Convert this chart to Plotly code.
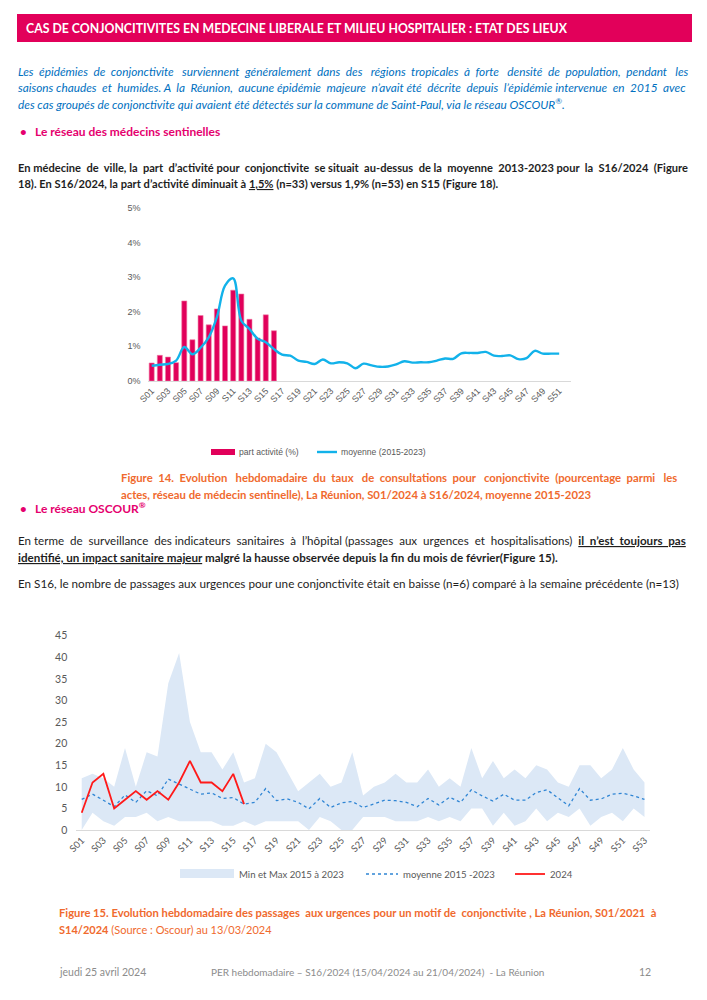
import plotly.graph_objects as go

W, H = 707, 1000

# ---------------- Data : Figure 14 (médecins sentinelles) ----------------
weeks52 = ["S%02d" % i for i in range(1, 53)]
part_activite_2024 = [0.52, 0.74, 0.69, 0.53, 2.31, 1.19, 1.89, 1.62, 2.08, 1.59,
                      2.62, 2.51, 1.78, 1.24, 1.91, 1.45]
moyenne_2015_2023 = [0.44, 0.47, 0.49, 0.59, 0.98, 0.77, 0.96, 1.26, 1.84, 2.75,
                     2.96, 1.74, 1.50, 1.22, 1.12, 0.92, 0.76, 0.73, 0.59, 0.55,
                     0.49, 0.62, 0.51, 0.54, 0.51, 0.37, 0.50, 0.45, 0.41, 0.42,
                     0.48, 0.57, 0.53, 0.54, 0.54, 0.59, 0.65, 0.64, 0.80, 0.81,
                     0.81, 0.84, 0.73, 0.72, 0.74, 0.63, 0.66, 0.87, 0.79, 0.79,
                     0.79, None]
y1_ticks = [0, 1, 2, 3, 4, 5]
y1_ticktext = ["0%", "1%", "2%", "3%", "4%", "5%"]

# ---------------- Data : Figure 15 (OSCOUR) ----------------
weeks53 = ["S%02d" % i for i in range(1, 54)]
max_2015_2023 = [12, 13, 12, 10, 19, 10, 18, 17, 34, 41,
                 25, 18, 18, 14, 18, 11, 12, 20, 18, 13.5,
                 9, 11, 13, 10, 11, 18, 8, 10, 11, 13,
                 11, 11, 14, 10, 12, 10, 19, 12, 16, 12,
                 14, 12, 15, 14, 11, 10, 15, 15, 12, 14,
                 19, 14, 11]
min_2015_2023 = [0, 4, 2, 1, 3, 3, 4, 2, 3, 2,
                 2, 2, 2, 1, 1, 2, 1, 2, 2, 2,
                 2, 0, 3, 2, 0, 0, 3, 3, 3, 2,
                 2, 2, 3, 2, 3, 2, 5, 5, 1, 4,
                 1, 2, 5, 2, 4, 3, 5, 1, 3, 4,
                 2, 5, 3]
moyenne_oscour = [7.1, 8.3, 6.9, 5.4, 8.1, 6.4, 9.1, 7.9, 11.8, 10.6,
                  9.4, 8.3, 8.6, 7.3, 7.5, 6.0, 6.4, 9.6, 6.8, 7.2,
                  6.4, 4.9, 7.3, 5.2, 6.3, 6.6, 5.2, 6.0, 6.9, 6.8,
                  6.4, 5.4, 7.3, 5.8, 7.6, 6.4, 9.3, 7.9, 6.7, 8.3,
                  6.9, 6.9, 8.7, 9.3, 7.5, 5.6, 9.6, 6.9, 7.2, 8.3,
                  8.5, 7.9, 7.1]
passages_2024 = [4, 11, 13, 5, 7, 9, 7, 9, 7, 11, 16, 11, 11, 9, 13, 6]
y2_ticks = [0, 5, 10, 15, 20, 25, 30, 35, 40, 45]

# ---------------- Styles ----------------
CAL = "Lato"
ARIAL = "Liberation Sans"
PINK_HEAD = "#E2005A"
PINK_SUB = "#E5006E"
BLUE_TXT = "#0070C0"
ORANGE = "#F06A2E"
DARK = "#1E1E1E"
GREY = "#595959"
BAR_C = "#E1005A"
LINE_C = "#12B2EA"
BAND_C = "#DCE8F6"
MEAN_C = "#2F85D4"
RED_C = "#FF1A1A"
NB = "\u00a0"


def px(x):
    return x / W


def py(y):
    return 1 - y / H


def justify(line, extra):
    """Spread `extra` non-breaking spaces over the word gaps of a line."""
    parts = line.split(" ")
    gaps = len(parts) - 1
    out = parts[0]
    for i in range(gaps):
        k = (i + 1) * extra // gaps - i * extra // gaps
        out += " " + NB * k + parts[i + 1]
    return out


fig = go.Figure()

# Figure 14 traces
fig.add_trace(go.Bar(x=weeks52[:len(part_activite_2024)], y=part_activite_2024,
                     marker=dict(color=BAR_C, line=dict(color="#F07AA5", width=0.6)),
                     xaxis="x", yaxis="y", showlegend=False, name="part activité (%)"))
fig.add_trace(go.Scatter(x=weeks52, y=moyenne_2015_2023, mode="lines",
                         line=dict(color=LINE_C, width=2.4, shape="spline", smoothing=1.0),
                         connectgaps=False, xaxis="x", yaxis="y", showlegend=False,
                         name="moyenne (2015-2023)"))

# Figure 15 traces
fig.add_trace(go.Scatter(x=weeks53, y=min_2015_2023, mode="lines", line=dict(width=0, color=BAND_C),
                         xaxis="x2", yaxis="y2", showlegend=False, hoverinfo="skip"))
fig.add_trace(go.Scatter(x=weeks53, y=max_2015_2023, mode="lines", line=dict(width=0, color=BAND_C),
                         fill="tonexty", fillcolor=BAND_C,
                         xaxis="x2", yaxis="y2", showlegend=False, name="Min et Max 2015 à 2023"))
fig.add_trace(go.Scatter(x=weeks53, y=moyenne_oscour, mode="lines",
                         line=dict(color=MEAN_C, width=1.3, dash="dot"),
                         xaxis="x2", yaxis="y2", showlegend=False, name="moyenne 2015 -2023"))
fig.add_trace(go.Scatter(x=weeks53[:len(passages_2024)], y=passages_2024, mode="lines",
                         line=dict(color=RED_C, width=1.8),
                         xaxis="x2", yaxis="y2", showlegend=False, name="2024"))

# ---------------- Axes ----------------
fig.update_layout(
    template="none",
    width=W, height=H, margin=dict(l=0, r=0, t=0, b=0, pad=0, autoexpand=False),
    paper_bgcolor="white", plot_bgcolor="rgba(0,0,0,0)",
    bargap=0.38,
    xaxis=dict(domain=[px(147.6), px(571.4)], anchor="y", type="category",
               categoryorder="array", categoryarray=weeks52, range=[-0.5, 51.5],
               tickvals=weeks52[::2], tickangle=-45, showgrid=False, zeroline=False,
               showline=True, linecolor="#D9D9D9", linewidth=1.2, ticks="",
               automargin=False,
               tickfont=dict(family=ARIAL, size=9, color=GREY), fixedrange=True),
    yaxis=dict(domain=[py(381), py(207.7)], anchor="x", range=[0, 5],
               tickvals=y1_ticks, ticktext=y1_ticktext, showgrid=False, zeroline=False,
               showline=False, ticks="", ticklabelstandoff=6, automargin=False,
               tickfont=dict(family=ARIAL, size=9, color=GREY), fixedrange=True),
    xaxis2=dict(domain=[px(76.3), px(649.9)], anchor="y2", type="category",
                categoryorder="array", categoryarray=weeks53, range=[-0.5, 52.5],
                tickvals=weeks53[::2], tickangle=-45, showgrid=False, zeroline=False,
                showline=True, linecolor="#D9D9D9", linewidth=1.2, ticks="",
                automargin=False,
                tickfont=dict(family=CAL, size=9.5, color=GREY), fixedrange=True),
    yaxis2=dict(domain=[py(830), py(635.7)], anchor="x2", range=[0, 45],
                tickvals=y2_ticks, showgrid=False, zeroline=False, showline=False,
                ticks="", ticklabelstandoff=8, automargin=False,
                tickfont=dict(family=CAL, size=10.5, color=GREY), fixedrange=True),
)

# ---------------- Page decoration ----------------
shapes = []
shapes.append(dict(type="rect", xref="paper", yref="paper", x0=px(17), x1=px(692),
                   y0=py(42), y1=py(14), fillcolor=PINK_HEAD, line=dict(width=0), layer="below"))
# Legend fig 14
shapes.append(dict(type="rect", xref="paper", yref="paper", x0=px(211), x1=px(235),
                   y0=py(455), y1=py(449), fillcolor=BAR_C, line=dict(width=0)))
shapes.append(dict(type="line", xref="paper", yref="paper", x0=px(317), x1=px(337),
                   y0=py(452), y1=py(452), line=dict(color=LINE_C, width=2.4)))
# Legend fig 15
shapes.append(dict(type="rect", xref="paper", yref="paper", x0=px(180), x1=px(234),
                   y0=py(878), y1=py(869), fillcolor=BAND_C, line=dict(width=0)))
shapes.append(dict(type="line", xref="paper", yref="paper", x0=px(366), x1=px(398),
                   y0=py(874), y1=py(874), line=dict(color=MEAN_C, width=1.3, dash="dot")))
shapes.append(dict(type="line", xref="paper", yref="paper", x0=px(515), x1=px(545),
                   y0=py(874), y1=py(874), line=dict(color=RED_C, width=1.8)))
fig.update_layout(shapes=shapes)


def T(x, y, text, size=11.5, color=DARK, family=CAL, xanchor="left"):
    fig.add_annotation(x=px(x), y=py(y), xref="paper", yref="paper", text=text,
                       showarrow=False, xanchor=xanchor, yanchor="middle", align="left",
                       font=dict(family=family, size=size, color=color), borderpad=0)


# Header
T(25, 28, "<b>CAS DE CONJONCITIVITES EN MEDECINE LIBERALE ET MILIEU HOSPITALIER : ETAT DES LIEUX</b>",
  size=12.3, color="white")

# Intro paragraph (blue italic, justified)
para1 = [
    "Les épidémies de conjonctivite surviennent généralement dans des régions tropicales à forte densité de population, pendant les",
    "saisons chaudes et humides. A la Réunion, aucune épidémie majeure n’avait été décrite depuis l’épidémie intervenue en 2015 avec",
    "des cas groupés de conjonctivite qui avaient été détectés sur la commune de Saint-Paul, via le réseau OSCOUR<sup>®</sup>.",
]
para1_extra = [20, 13, 0]
for i, line in enumerate(para1):
    T(17, 72 + 16 * i, "<i>" + justify(line, para1_extra[i]) + "</i>", size=11.8, color=BLUE_TXT)

# Bullet 1
T(19, 131, "<b>•</b>", size=11.5, color=PINK_SUB)
T(34, 131, "<b>Le réseau des médecins sentinelles</b>", size=12, color=PINK_SUB)

# Bold paragraph
para2 = [
    "En médecine de ville, la part d’activité pour conjonctivite se situait au-dessus de la moyenne 2013-2023 pour la S16/2024 (Figure",
    "18). En S16/2024, la part d’activité diminuait à <u>1,5%</u> (n=33) versus 1,9% (n=53) en S15 (Figure 18).",
]
para2_extra = [13, 0]
for i, line in enumerate(para2):
    T(17, 167 + 17 * i, "<b>" + justify(line, para2_extra[i]) + "</b>", size=11.1, color=DARK)

# Legend fig 14 text
T(238, 452, "part activité (%)", size=8.6, color=GREY, family=ARIAL)
T(340, 452, "moyenne (2015-2023)", size=8.6, color=GREY, family=ARIAL)

# Caption fig 14
cap1 = [
    "Figure 14. Evolution hebdomadaire du taux de consultations pour conjonctivite (pourcentage parmi les",
    "actes, réseau de médecin sentinelle), La Réunion, S01/2024 à S16/2024, moyenne 2015-2023",
]
cap1_extra = [16, 0]
for i, line in enumerate(cap1):
    T(120, 477 + 17 * i, "<b>" + justify(line, cap1_extra[i]) + "</b>", size=11.3, color=ORANGE)

# Bullet 2
T(19, 508, "<b>•</b>", size=11.5, color=PINK_SUB)
T(34, 508, "<b>Le réseau OSCOUR<sup>®</sup></b>", size=12, color=PINK_SUB)

para3_a = justify("En terme de surveillance des indicateurs sanitaires à l’hôpital (passages aux urgences et hospitalisations)", 10)
para3_b = justify("il n’est toujours pas", 3)
T(17, 540, para3_a + " " + NB + "<b><u>" + para3_b + "</u></b>", size=11.6, color=DARK)
T(17, 557, "<b><u>identifié, un impact sanitaire majeur</u> malgré la hausse observée depuis la fin du mois de février(Figure 15).</b>",
  size=11.6, color=DARK)

T(17, 583, "En S16, le nombre de passages aux urgences pour une conjonctivite était en baisse (n=6) comparé à la semaine précédente (n=13)",
  size=11.7, color=DARK)

# Legend fig 15 text
T(238, 874, "Min et Max 2015 à 2023", size=9.6, color=GREY)
T(402, 874, "moyenne 2015 -2023", size=9.6, color=GREY)
T(549, 874, "2024", size=9.6, color=GREY)

# Caption fig 15
T(58, 912, "<b>" + justify("Figure 15. Evolution hebdomadaire des passages aux urgences pour un motif de conjonctivite , La Réunion, S01/2021 à", 3) + "</b>",
  size=11.2, color=ORANGE)
T(58, 929, "<b>S14/2024</b> (Source : Oscour) au 13/03/2024", size=11.0, color=ORANGE)

# Footer
T(58, 972, "jeudi 25 avril 2024", size=10.5, color="#8C8C8C")
T(210, 972, "PER hebdomadaire – S16/2024 (15/04/2024 au 21/04/2024)  - La Réunion", size=10, color="#8C8C8C")
T(652, 972, "12", size=10.5, color="#8C8C8C", xanchor="right")

fig.write_html("out.html", config={"displayModeBar": False, "staticPlot": True},
               post_script="document.body.style.margin='0px';document.body.style.padding='0px';")
